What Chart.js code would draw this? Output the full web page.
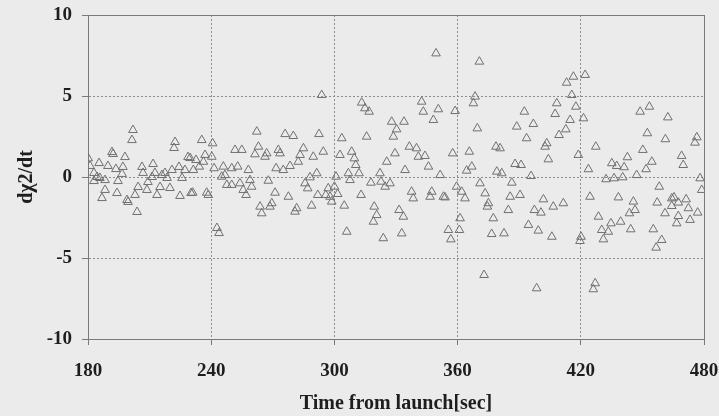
<!DOCTYPE html>
<html>
<head>
<meta charset="utf-8">
<script src="https://cdn.jsdelivr.net/npm/chart.js@4.4.1/dist/chart.umd.min.js"></script>
<style>
  html, body { margin: 0; padding: 0; background: #ebebeb; }
  #wrap { width: 719px; height: 416px; position: relative; }
</style>
</head>
<body>
<div id="wrap"><canvas id="c" width="719" height="416"></canvas></div>
<script>
// Tick labels
const xTicks = [180, 240, 300, 360, 420, 480];
const yTicks = [-10, -5, 0, 5, 10];

// Series: time from launch [sec] and dChi2/dt
const timeA = [180.1,181.0,182.9,185.4,184.4,185.8,182.9,188.3,189.7,191.7,192.2,193.6,194.6,196.6,197.0,198.0,188.3,186.8,194.1,199.0,199.5,201.9,201.4,203.9,204.4,202.9,206.3,206.8,208.7,209.2,211.2,211.7,212.6,213.6,215.1,216.0,217.5,218.5,219.9,220.9,222.4,221.9,224.3,225.8,227.2,228.7,224.8,230.2];
const rateA = [1.15,0.68,0.25,0.86,0.0,-0.06,-0.25,-0.19,0.68,1.54,1.42,0.49,-0.25,0.19,0.62,1.23,-0.80,-1.30,-0.99,-1.42,-1.54,2.90,2.28,-2.16,-0.62,-1.11,0.62,0.25,-0.80,-0.31,0.0,0.80,0.25,-1.11,-0.62,0.12,0.25,-0.06,-0.68,0.43,2.16,1.79,0.62,-0.06,0.43,1.23,-1.17,-0.99];

const timeB = [235.4,240.7,229.7,232.6,237.0,240.3,231.3,234.2,236.2,241.4,245.9,250.0,252.9,258.1,245.1,246.7,247.6,250.0,254.0,255.6,257.0,258.9,259.7,231.0,237.8,238.6,251.6,254.9,262.2,263.0,261.3,266.2,267.0,272.7,273.5,276.0,280.0,271.6,275.1,278.4,282.4,267.8,271.1,277.6,263.8,264.6,268.6,269.5,280.8,281.6,242.8,243.8];
const rateB = [2.28,2.08,1.17,1.05,1.36,1.25,0.43,0.64,0.94,0.54,0.64,0.54,0.64,0.43,0.02,0.12,-0.49,-0.49,-0.39,-0.80,-1.11,-0.19,-0.60,-0.97,-0.97,-1.11,1.67,1.67,2.80,1.87,1.40,1.25,1.46,1.67,1.46,2.65,2.53,0.54,0.43,0.68,0.94,-0.23,-0.97,-1.22,-1.83,-2.24,-1.83,-1.62,-2.14,-1.93,-3.15,-3.46];

const timeC = [293.8,292.5,303.6,315.7,313.3,314.9,316.9,327.9,330.3,328.7,333.9,284.9,283.3,289.7,294.6,302.7,308.4,309.7,310.4,312.0,306.8,307.6,291.4,288.1,285.7,287.0,300.8,300.0,297.0,295.8,297.9,298.7,301.6,291.9,288.9,304.8,313.0,317.8,322.2,322.7,324.7,327.1,319.4,320.6,319.0,306.0,323.8,331.5,332.8,325.5,329.5];
const rateC = [5.06,2.65,2.39,2.49,4.59,4.24,4.03,3.41,2.94,2.49,3.41,1.77,1.36,1.25,1.56,1.36,1.56,1.15,0.74,0.23,0.23,-0.19,0.23,-0.02,-0.39,-0.70,0.02,-0.60,-0.70,-1.11,-1.22,-1.52,-1.05,-1.11,-1.77,-1.77,-1.11,-0.35,0.23,-0.29,-0.60,-0.39,-1.83,-2.35,-2.76,-3.38,-3.78,-2.04,-3.48,0.94,1.46];

const timeD = [349.5,370.6,342.5,343.3,350.6,348.2,358.8,368.5,367.7,369.6,336.5,340.0,340.9,344.1,345.8,334.4,351.5,357.6,365.7,366.9,364.4,378.7,380.7,379.1,381.5,337.6,338.4,347.4,346.6,353.1,353.9,359.5,362.0,363.6,370.9,373.4,375.0,374.5,333.6,361.2,355.5,360.9,356.7,377.4,376.6,382.6,372.9];
const rateD = [7.63,7.12,4.65,4.03,4.18,3.52,4.07,4.96,4.55,3.00,1.87,1.77,1.25,1.30,0.64,0.43,0.12,1.46,1.56,0.64,0.39,1.87,1.77,0.33,0.23,-0.91,-1.32,-0.91,-1.22,-1.22,-1.26,-0.60,-0.91,-1.32,-0.39,-1.01,-1.62,-1.83,-2.45,-2.55,-3.27,-3.27,-3.85,-2.55,-3.52,-3.48,-6.05];

const timeE = [413.1,416.4,422.1,415.6,408.3,407.5,417.6,414.8,421.3,412.7,409.4,392.5,396.9,388.8,393.6,403.4,402.6,404.2,418.8,427.3,423.7,388.0,390.9,395.8,386.4,385.6,390.4,384.7,401.8,397.4,400.6,406.6,411.5,394.5,399.3,405.9,420.1,419.6,424.5,428.6,430.2,398.5,427.0,426.1];
const rateE = [5.82,6.19,6.30,5.06,4.55,3.89,4.34,3.52,3.62,2.94,2.59,4.03,3.27,3.11,2.39,2.08,1.87,1.09,1.36,1.87,0.48,0.80,0.74,0.06,-0.35,-1.22,-1.11,-2.04,-1.38,-2.04,-2.20,-1.83,-1.62,-2.96,-3.31,-3.69,-3.69,-3.95,-1.22,-2.45,-3.27,-6.87,-6.56,-6.93];

const timeF = [448.9,453.4,462.4,452.4,461.2,476.5,475.6,450.2,442.7,435.1,437.5,441.1,454.6,451.8,469.1,469.9,447.2,432.3,436.2,440.4,478.1,478.9,458.2,438.3,445.6,446.4,443.7,457.2,461.0,464.3,465.4,467.5,471.3,464.3,467.5,466.7,472.4,473.2,476.9,434.7,433.4,431.0,439.4,444.3,455.3,459.4,456.7];
const rateF = [4.03,4.34,3.68,2.70,2.33,2.45,2.12,1.67,1.22,0.85,0.68,0.60,0.94,0.48,1.30,0.74,0.12,-0.14,-0.08,-0.02,-0.08,-0.80,-0.60,-1.26,-1.52,-2.04,-2.24,-1.58,-2.24,-1.32,-1.26,-1.58,-1.38,-1.79,-2.41,-2.86,-1.93,-2.65,-2.20,-2.86,-3.38,-3.85,-2.76,-3.23,-3.23,-3.89,-4.36];

const times = [].concat(timeA, timeB, timeC, timeD, timeE, timeF);
const rates = [].concat(rateA, rateB, rateC, rateD, rateE, rateF);
const points = times.map((t, i) => ({ x: t, y: rates[i] }));

const SERIF = "'Liberation Serif', 'Times New Roman', serif";

const framePlugin = {
  id: 'frame',
  beforeDatasetsDraw(chart) {
    const a = chart.chartArea, ctx = chart.ctx;
    ctx.save();
    ctx.strokeStyle = '#7a7a7a';
    ctx.lineWidth = 1;
    ctx.strokeRect(Math.round(a.left) + 0.5, Math.round(a.top) + 0.5,
                   Math.round(a.right - a.left), Math.round(a.bottom - a.top));
    ctx.restore();
  }
};

new Chart(document.getElementById('c'), {
  type: 'scatter',
  data: {
    datasets: [{
      data: points,
      pointStyle: 'triangle',
      pointRadius: 5,
      pointBorderWidth: 1,
      pointBorderColor: '#707070',
      pointBackgroundColor: 'rgba(0,0,0,0)',
      showLine: false
    }]
  },
  options: {
    responsive: false,
    animation: false,
    events: [],
    layout: { padding: { left: 0, right: 15, top: 15, bottom: 0 } },
    plugins: { legend: { display: false }, tooltip: { enabled: false } },
    scales: {
      x: {
        type: 'linear',
        min: 180, max: 480,
        afterBuildTicks(s) { s.ticks = xTicks.map(v => ({ value: v })); },
        afterFit(s) { s.height = 77; s.paddingLeft = 0; s.paddingRight = 0; },
        ticks: {
          padding: 15,
          color: '#1e1e1e',
          font: { family: SERIF, size: 19, weight: 'bold' }
        },
        grid: {
          color: '#8c8c8c', lineWidth: 1,
          drawTicks: true, tickLength: 6, tickColor: '#7a7a7a', tickBorderDash: []
        },
        border: { display: true, color: '#7a7a7a', dash: [2, 2] },
        title: {
          display: true, text: 'Time from launch[sec]', color: '#1e1e1e',
          font: { family: SERIF, size: 20, weight: 'bold' },
          padding: { top: 0, bottom: 0 }
        }
      },
      y: {
        type: 'linear',
        min: -10, max: 10,
        afterBuildTicks(s) { s.ticks = yTicks.map(v => ({ value: v })); },
        afterFit(s) { s.width = 88; s.paddingTop = 0; s.paddingBottom = 0; },
        ticks: {
          padding: 10,
          color: '#1e1e1e',
          font: { family: SERIF, size: 19, weight: 'bold' }
        },
        grid: {
          color: '#8c8c8c', lineWidth: 1,
          drawTicks: true, tickLength: 6, tickColor: '#7a7a7a', tickBorderDash: []
        },
        border: { display: true, color: '#7a7a7a', dash: [2, 2] },
        title: {
          display: true, text: 'dχ2/dt', color: '#1e1e1e',
          font: { family: SERIF, size: 20, weight: 'bold' },
          padding: { top: 15, bottom: 0 }
        }
      }
    }
  },
  plugins: [framePlugin]
});
</script>
</body>
</html>
